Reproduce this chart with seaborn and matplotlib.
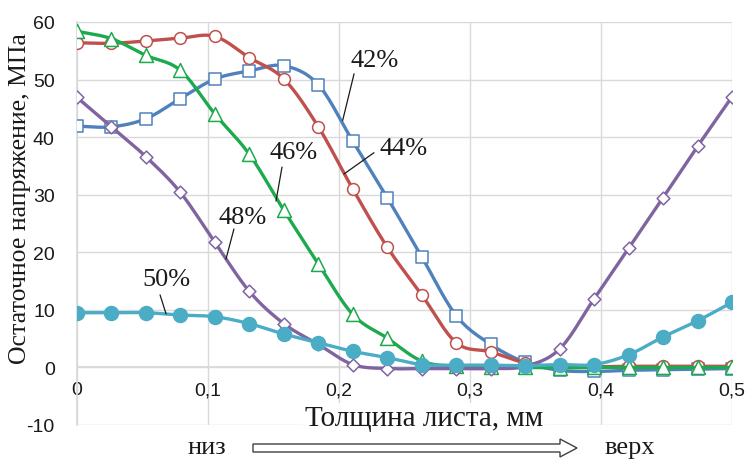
import numpy as np
import pandas as pd
import matplotlib
matplotlib.use("Agg")
import matplotlib.pyplot as plt
import seaborn as sns
from matplotlib.patches import Polygon

# Sheet thickness positions, mm
thickness = [0.0, 0.0263, 0.0526, 0.0789, 0.1053, 0.1316, 0.1579, 0.1842, 0.2105, 0.2368,
             0.2632, 0.2895, 0.3158, 0.3421, 0.3684, 0.3947, 0.4211, 0.4474, 0.4737, 0.5]

# Residual stress, MPa, for each reduction level
stress_42 = [41.9, 41.8, 43.2, 46.7, 50.1, 51.5, 52.4, 49.1, 39.3, 29.5,
             19.2, 9.0, 4.0, 0.9, -0.5, -0.7, -0.5, -0.4, -0.3, -0.2]
stress_44 = [56.4, 56.3, 56.7, 57.2, 57.5, 53.8, 50.1, 41.8, 31.0, 20.9,
             12.6, 4.3, 2.7, 0.8, 0.1, 0.1, 0.2, 0.2, 0.2, 0.2]
stress_46 = [58.4, 57.1, 54.2, 51.6, 44.0, 37.0, 27.3, 18.0, 9.2, 5.1,
             1.1, 0.2, 0.1, 0.0, -0.1, 0.0, 0.0, 0.0, 0.0, 0.0]
stress_48 = [46.9, 41.8, 36.6, 30.4, 21.7, 13.2, 7.6, 4.0, 0.5, -0.2,
             -0.2, -0.2, -0.2, 0.2, 3.2, 11.9, 20.7, 29.5, 38.4, 47.0]
stress_50 = [9.5, 9.5, 9.5, 9.1, 8.8, 7.6, 5.8, 4.3, 2.8, 1.7,
             0.5, 0.4, 0.4, 0.3, 0.5, 0.5, 2.2, 5.3, 8.1, 11.3]

series_names = ["42%", "44%", "46%", "48%", "50%"]
x_tick_values = [0, 0.1, 0.2, 0.3, 0.4, 0.5]
x_tick_labels = ["0", "0,1", "0,2", "0,3", "0,4", "0,5"]
y_tick_values = [-10, 0, 10, 20, 30, 40, 50, 60]

df = pd.DataFrame({"x": thickness * 5,
                   "y": stress_42 + stress_44 + stress_46 + stress_48 + stress_50,
                   "series": np.repeat(series_names, len(thickness))})

styles = {
    "42%": dict(color="#4F81BD", marker="s", size=8.0, fill="white"),
    "44%": dict(color="#C0504D", marker="o", size=8.5, fill="white"),
    "46%": dict(color="#1DAA4E", marker="^", size=10.0, fill="white"),
    "48%": dict(color="#8064A2", marker="D", size=6.5, fill="white"),
    "50%": dict(color="#4BACC6", marker="o", size=10.0, fill=None),
}


def smooth_curve(x, y, n=16):
    """Catmull-Rom path through the points (same as a smoothed spreadsheet line)."""
    pts = np.column_stack([x, y]).astype(float)
    P = np.vstack([2 * pts[0] - pts[1], pts, 2 * pts[-1] - pts[-2]])
    t = np.linspace(0, 1, n, endpoint=False)[:, None]
    segs = []
    for i in range(1, len(P) - 2):
        p0, p1, p2, p3 = P[i - 1], P[i], P[i + 1], P[i + 2]
        segs.append(0.5 * (2 * p1 + (-p0 + p2) * t
                           + (2 * p0 - 5 * p1 + 4 * p2 - p3) * t ** 2
                           + (-p0 + 3 * p1 - 3 * p2 + p3) * t ** 3))
    segs.append(pts[-1:])
    c = np.vstack(segs)
    return c[:, 0], c[:, 1]


sns.set_theme(style="white")
plt.rcParams["font.family"] = ["Liberation Sans", "DejaVu Sans"]

fig = plt.figure(figsize=(7.5, 4.6), dpi=100)
ax = fig.add_axes([77 / 750, 34 / 460, 655 / 750, 403 / 460])

for k, name in enumerate(series_names):
    st = styles[name]
    sub = df[df["series"] == name]
    sx, sy = smooth_curve(sub["x"].values, sub["y"].values)
    sns.lineplot(x=sx, y=sy, ax=ax, color=st["color"], linewidth=2.4,
                 sort=False, estimator=None, zorder=3 + 2 * k)
    face = st["fill"] if st["fill"] else st["color"]
    sns.scatterplot(x=sub["x"], y=sub["y"], ax=ax, marker=st["marker"],
                    s=st["size"] ** 2, facecolor=face, edgecolor=st["color"],
                    linewidth=1.1, zorder=4 + 2 * k, legend=False)

ax.set_xlim(0, 0.5)
ax.set_ylim(-10, 60)
ax.set_xticks(x_tick_values)
ax.set_xticklabels(x_tick_labels)
ax.set_yticks(y_tick_values)
ax.set_yticklabels([str(v) for v in y_tick_values])
ax.grid(True, color="#D9D9D9", linewidth=1.0)
ax.set_axisbelow(True)
for side in ["top", "right"]:
    ax.spines[side].set_visible(False)
ax.spines["left"].set_color("#D9D9D9")
ax.spines["bottom"].set_color("#D9D9D9")
ax.spines["bottom"].set_position(("data", 0))
ax.tick_params(axis="both", length=0, labelsize=14, labelcolor="#1a1a1a")
ax.tick_params(axis="x", pad=10)
ax.tick_params(axis="y", pad=16)
ax.set_xlabel("")
ax.set_ylabel("")

serif = ["Liberation Serif", "DejaVu Serif"]

# Series callouts with leader lines
callouts = [
    ("42%", (0.227, 53.4), (0.2115, 51.0), (0.2028, 42.9)),
    ("44%", (0.2496, 38.1), (0.2267, 37.3), (0.2038, 33.6)),
    ("46%", (0.165, 37.5), (0.1565, 34.8), (0.1519, 28.9)),
    ("48%", (0.1263, 26.2), (0.1198, 24.05), (0.1137, 18.8)),
    ("50%", (0.068, 15.4), (0.0634, 12.6), (0.068, 9.3)),
]
for label, tpos, l0, l1 in callouts:
    ax.text(tpos[0], tpos[1], label, family=serif, fontsize=19, color="#1a1a1a",
            ha="center", va="center", zorder=20)
    ax.plot([l0[0], l1[0]], [l0[1], l1[1]], color="#1a1a1a", linewidth=0.9, zorder=20)

# Axis titles
fig.text(20 / 750, 1 - 199 / 460, "Остаточное напряжение, МПа", family=serif,
         fontsize=18.5, rotation=90, ha="center", va="center", color="#1a1a1a")
fig.text(424 / 750, 1 - 419 / 460, "Толщина листа, мм", family=serif,
         fontsize=21, ha="center", va="center", color="#1a1a1a",
         bbox=dict(facecolor="white", edgecolor="none", pad=1.5))

# Direction arrow: bottom -> top of the sheet
fig.text(207 / 750, 1 - 448 / 460, "низ", family=serif, fontsize=19,
         ha="center", va="center", color="#1a1a1a")
fig.text(630 / 750, 1 - 448 / 460, "верх", family=serif, fontsize=19,
         ha="center", va="center", color="#1a1a1a")
arrow_px = [(253, 445), (560, 445), (560, 440), (577, 449), (560, 458),
            (560, 453), (253, 453)]
arrow = Polygon([(px / 750, 1 - py / 460) for px, py in arrow_px], closed=True,
                transform=fig.transFigure, facecolor="white", edgecolor="#404040",
                linewidth=1.0)
fig.patches.append(arrow)

fig.savefig("out.png", dpi=100)
